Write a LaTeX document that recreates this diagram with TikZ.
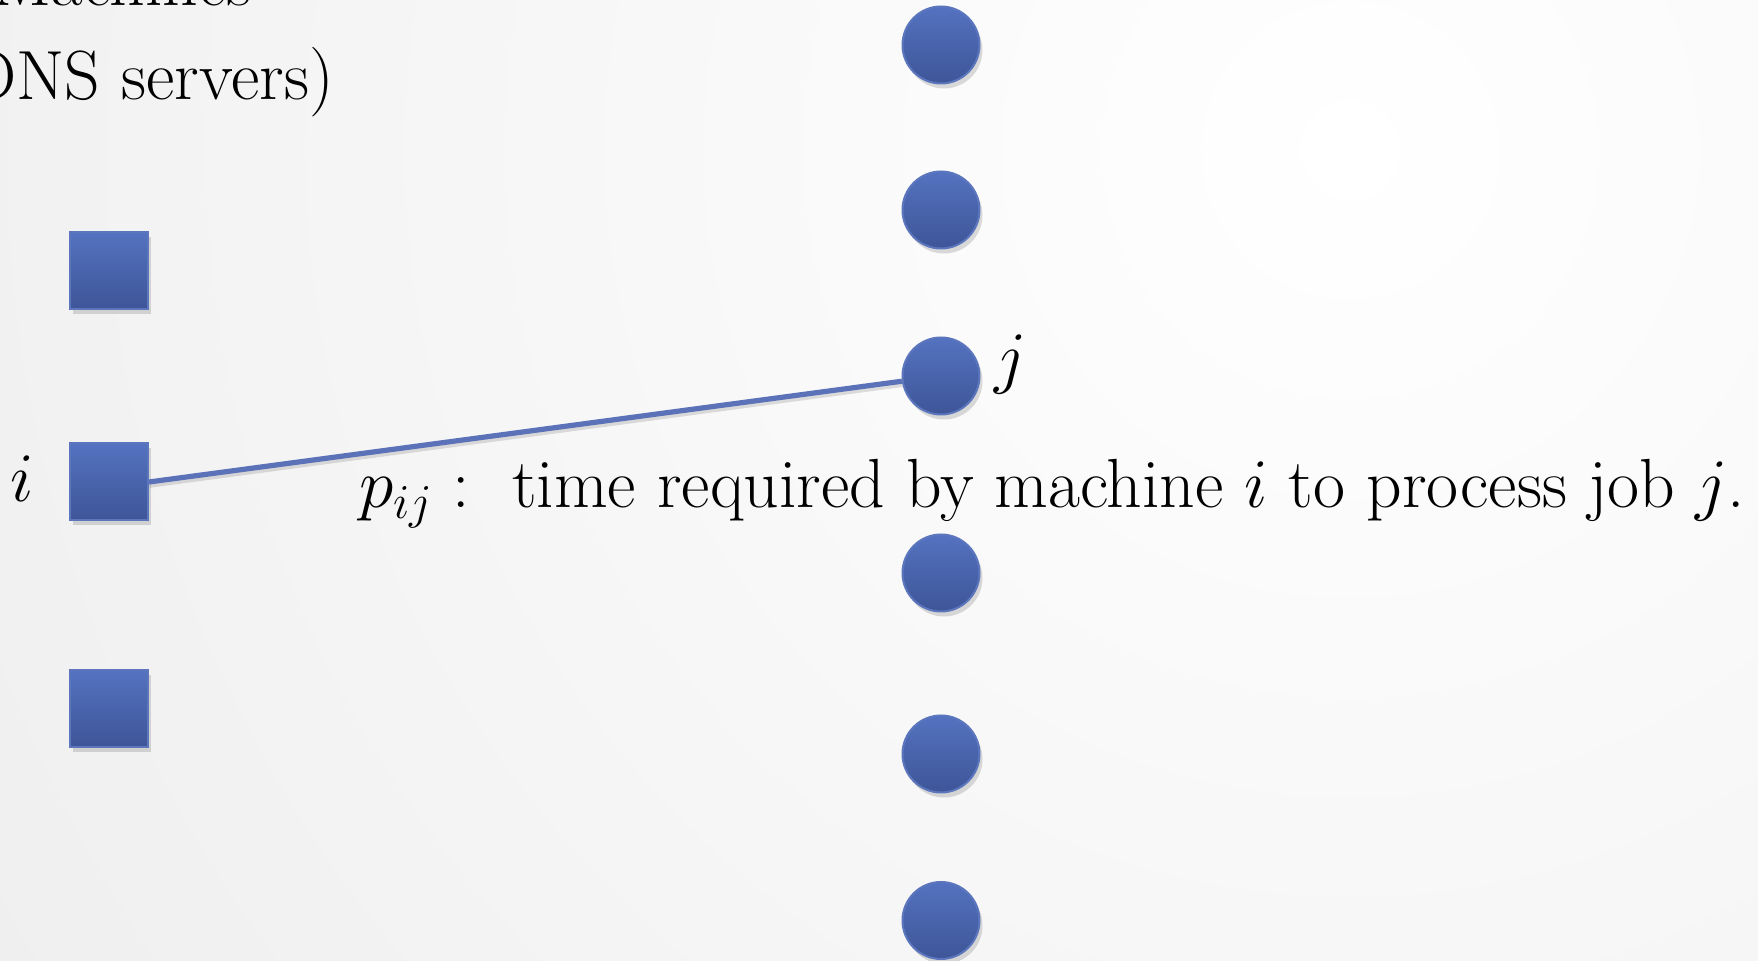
\RequirePackage{fix-cm}
\documentclass[tikz,border=0pt]{standalone}
\usetikzlibrary{shadows}
\definecolor{shtop}{RGB}{84,114,192}
\definecolor{shbot}{RGB}{62,86,152}
\definecolor{shedge}{RGB}{92,118,190}
\definecolor{linec}{RGB}{92,114,184}
\tikzset{
  shapebase/.style={draw=shedge, line width=1pt, top color=shtop, bottom color=shbot,
    drop shadow={shadow xshift=1.5pt, shadow yshift=-2.5pt, opacity=0.2, fill=black!70}},
  machine/.style={shapebase, rectangle, minimum width=39pt, minimum height=38.5pt, inner sep=0pt},
  job/.style={shapebase, circle, minimum size=38.5pt, inner sep=0pt},
  conn/.style={draw=linec, line width=2.6pt,
    preaction={draw=black, opacity=0.12, line width=2.6pt, transform canvas={xshift=0.3pt, yshift=-1.6pt}}},
  txt/.style={inner sep=0pt, font=\fontsize{34.8}{42}\selectfont},
}
\begin{document}
\begin{tikzpicture}[x=0.5pt, y=-0.5pt]
\useasboundingbox (0,0) rectangle (1758,961);
\begin{scope}
\clip (0,0) rectangle (1758,961);
\shade[inner color=white, outer color=black!13] (1350,150) circle (3300);
\end{scope}
% texts
\node[txt, anchor=base east] (t1) at (252,6) {Machines};
\node[txt, anchor=base east] (t2) at (334,100) {(DNS servers)};
% machines
\node[machine] (s1) at (109,270.5) {};
\node[machine] (s2) at (109,482) {};
\node[machine] (s3) at (109,708.5) {};
% jobs
\node[job] (c1) at (941,45) {};
\node[job] (c2) at (941,210) {};
\node[job] (c3) at (941,376) {};
\node[job] (c4) at (941,573) {};
\node[job] (c5) at (941,754) {};
\node[job] (c6) at (941,920.5) {};
% connector
\draw[conn] (s2.east) -- (c3);
% labels
\node[txt, anchor=base] (li) at (22,502) {$i$};
\node[txt, anchor=base west] (lj) at (994,381) {$j$};
\node[txt, anchor=base west] (lp) at (359,508) {$p_{ij}:$\ \ time required by machine $i$ to process job $j$.};
\end{tikzpicture}
\end{document}
